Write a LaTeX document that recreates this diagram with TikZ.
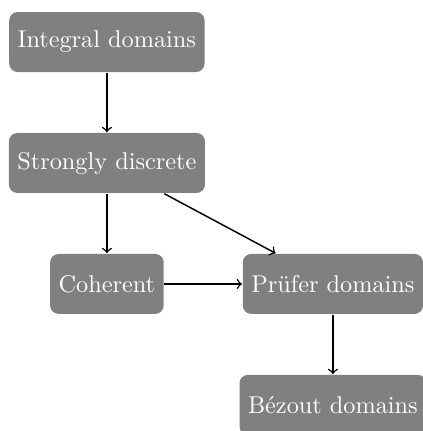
\documentclass[tikz,border=0pt]{standalone}
\usepackage{xcolor}
\usepackage{tikz}

\begin{document}
\begin{tikzpicture}[semithick,
  box/.style={fill=black!50, text=white, rounded corners=3.5pt, inner xsep=3.5pt, minimum height=24.7pt}]
\useasboundingbox (-1.547,0.608) rectangle (4.573,-5.628);
\node[box] (int) at (0,0) {Integral domains};
\node[box] (strong) at (0,-1.75) {Strongly discrete};
\node[box] (coh) at (0,-3.5) {Coherent};
\node[box] (pruf) at (3.27,-3.5) {Prüfer domains};
\node[box] (bez) at (3.27,-5.25) {Bézout domains};
\draw[->] (int) -- (strong);
\draw[->] (strong) -- (coh);
\draw[->] (strong) -- (pruf);
\draw[->] (coh) -- (pruf);
\draw[->] (pruf) -- (bez);
\end{tikzpicture}
\end{document}
